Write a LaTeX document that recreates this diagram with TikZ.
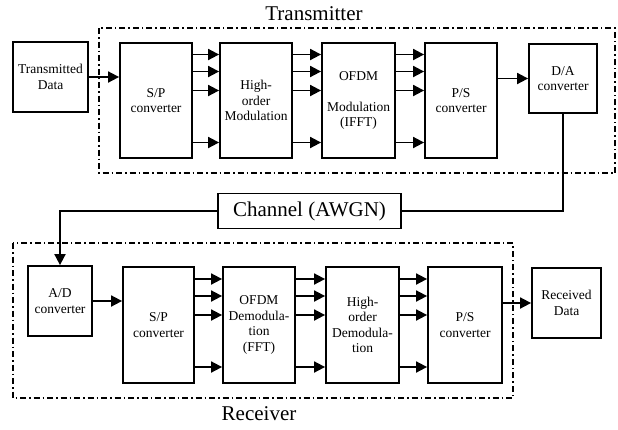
\documentclass[tikz,border=0pt]{standalone}
\usepackage{fontspec}
\setmainfont{Liberation Serif}
\usetikzlibrary{arrows.meta}
\begin{document}
\begin{tikzpicture}[x=1pt,y=-1pt,
  blk/.style={draw,line width=1.8pt,inner sep=0pt,align=center,font=\fontsize{13.5}{15.5}\selectfont},
  arr/.style={line width=1.8pt,-{Triangle[length=11pt,width=11pt]}},
  wire/.style={line width=1.8pt},
  frame/.style={line width=1.4pt,dash pattern=on 6pt off 3pt on 1.5pt off 3pt},
  title/.style={font=\fontsize{21}{24}\selectfont}]
\useasboundingbox (0,0) rectangle (618,429);
% transmitter
\node[blk,minimum width=75pt,minimum height=70pt] (td) at (50.5,77) {Transmitted\\Data};
\node[blk,minimum width=72pt,minimum height=115pt] (sp1) at (156,100.5) {S/P\\converter};
\node[blk,minimum width=72pt,minimum height=115pt] (hm) at (256,100.5) {High-\\order\\Modulation};
\node[blk,minimum width=73pt,minimum height=115pt] (ofdm) at (358.5,100.5) {OFDM\\[15pt]Modulation\\(IFFT)};
\node[blk,minimum width=72pt,minimum height=115pt] (ps1) at (461,100.5) {P/S\\converter};
\node[blk,minimum width=68pt,minimum height=69pt] (da) at (563,78.5) {D/A\\converter};
\draw[frame] (99,28) rectangle (615,173);
\node[title] (tx) at (314,14) {Transmitter};
% channel
\node[blk,font=\fontsize{21}{24}\selectfont,minimum width=183pt,minimum height=35pt] (ch) at (309.5,211) {Channel (AWGN)};
% receiver
\node[blk,minimum width=64pt,minimum height=70pt] (ad) at (60,301) {A/D\\converter};
\node[blk,minimum width=71pt,minimum height=116pt] (sp2) at (158.5,325) {S/P\\converter};
\node[blk,minimum width=72pt,minimum height=116pt] (od) at (259,325) {OFDM\\Demodula-\\tion\\(FFT)};
\node[blk,minimum width=73pt,minimum height=116pt] (hd) at (362.5,325) {High-\\order\\Demodula-\\tion};
\node[blk,minimum width=74pt,minimum height=116pt] (ps2) at (465,325) {P/S\\converter};
\node[blk,minimum width=69pt,minimum height=70pt] (rd) at (566.5,303) {Received\\Data};
\draw[frame] (13,243) rectangle (513,398);
\node[title] (rx) at (259,414) {Receiver};
% connectors
\draw[arr] (td.east) -- (td.east -| sp1.west);
\foreach \a/\b in {sp1/hm,hm/ofdm,ofdm/ps1,sp2/od,od/hd,hd/ps2}{
  \foreach \s in {-46,-29,-10,42}{
    \draw[arr] ([yshift=-\s pt]\a.east) -- ([yshift=-\s pt]\b.west);
  }
}
\draw[arr] (ps1.east |- da.west) -- (da.west);
\draw[wire] (da.south) |- (ch.east);
\draw[arr] (ch.west) -| (ad.north);
\draw[arr] (ad.east) -- (ad.east -| sp2.west);
\draw[arr] (ps2.east |- rd.west) -- (rd.west);
\end{tikzpicture}
\end{document}
